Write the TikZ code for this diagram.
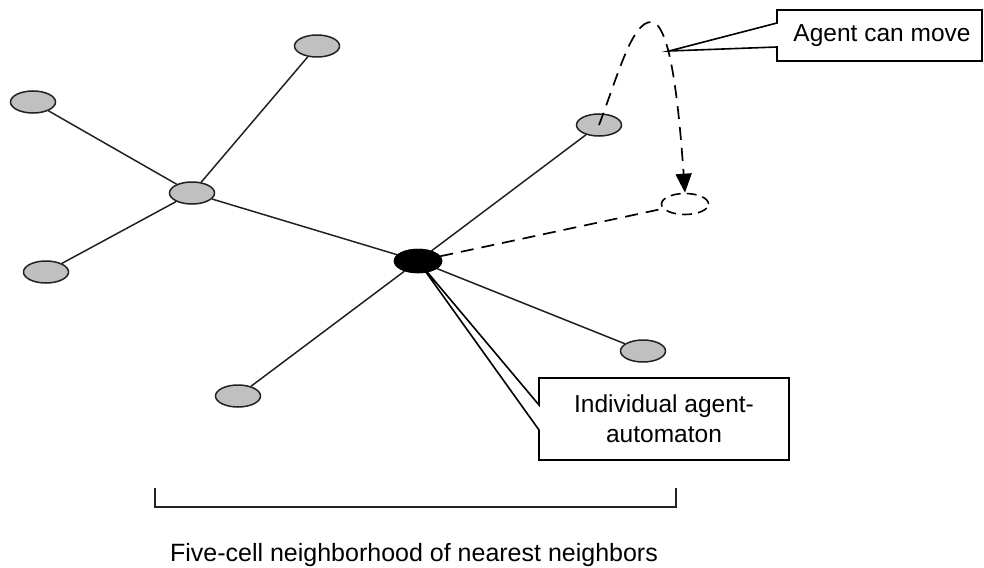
\documentclass[tikz,border=0pt]{standalone}
\usepackage{fontspec}
\setmainfont{Liberation Sans}
\usetikzlibrary{shapes.geometric,arrows.meta}
\definecolor{cellgray}{HTML}{C0C0C0}
\definecolor{edgecol}{HTML}{222222}
\begin{document}
\begin{tikzpicture}[x=1pt,y=-1pt,
  cell/.style={ellipse,draw=edgecol,line width=1.5pt,fill=cellgray,minimum width=45pt,minimum height=22pt,inner sep=0pt},
  agentcell/.style={cell,fill=black,draw=black,minimum width=47pt,minimum height=23pt},
  ghostcell/.style={ellipse,draw=black,line width=1.6pt,dash pattern=on 10pt off 6pt,minimum width=47pt,minimum height=21pt,inner sep=0pt},
  link/.style={draw=edgecol,line width=1.5pt},
  movelink/.style={draw=black,line width=1.7pt,dash pattern=on 13pt off 8pt},
  callout/.style={draw=black,line width=1.6pt,fill=white,line join=miter},
  lbl/.style={font=\fontsize{24.5}{30}\selectfont,inner sep=0pt}
]
\useasboundingbox (0,0) rectangle (984,567);

% callout for the agent (drawn under the node)
\node[agentcell] (agent) at (418,261) {};
\draw[callout] (539,378) -- (789,378) -- (789,460) -- (539,460) -- (539,430) -- (agent.center) -- (539,405) -- cycle;
\node[lbl,align=center] (agentlbl) at (664,419) {Individual agent-\\automaton};

% nodes
\node[cell] (hub) at (192,193) {};
\node[cell] (lt) at (33,102) {};
\node[cell] (tp) at (317,46) {};
\node[cell] (lb) at (46,272) {};
\node[cell] (bt) at (238,396) {};
\node[cell] (ur) at (599,125) {};
\node[cell] (lr) at (643,351) {};
\node[ghostcell] (dest) at (685,204) {};

% edges
\draw[link] (hub) -- (lt);
\draw[link] (hub) -- (tp);
\draw[link] (hub) -- (lb);
\draw[link] (hub) -- (agent);
\draw[link] (agent) -- (bt);
\draw[link] (agent) -- (ur);
\draw[link] (agent) -- (lr);
\draw[movelink] (agent) -- (dest);

% redraw agent on top of the callout tip
\node[agentcell] at (agent.center) {};

% movement curve
\coordinate (peak) at (651,22);
\draw[movelink,-{Triangle[length=19pt,width=16pt]}] (ur.center) .. controls (618,75) and (632,22) .. (peak) .. controls (671,22) and (679,110) .. (dest.north);

% callout "Agent can move"
\coordinate (movetip) at (669,51);
\draw[callout] (777,10) -- (982,10) -- (982,61) -- (777,61) -- (777,47) -- (movetip) -- (777,23) -- cycle;
\node[lbl,anchor=base] (movelbl) at (882,42) {Agent can move};

% bracket
\coordinate (bl) at (155,488);
\coordinate (br) at (676,488);
\draw[draw=edgecol,line width=1.6pt] (bl) -- (155,507) -- (676,507) -- (br);
\node[lbl,font=\fontsize{25}{30}\selectfont,anchor=base] (nbh) at (414,561) {Five-cell neighborhood of nearest neighbors};
\end{tikzpicture}
\end{document}
